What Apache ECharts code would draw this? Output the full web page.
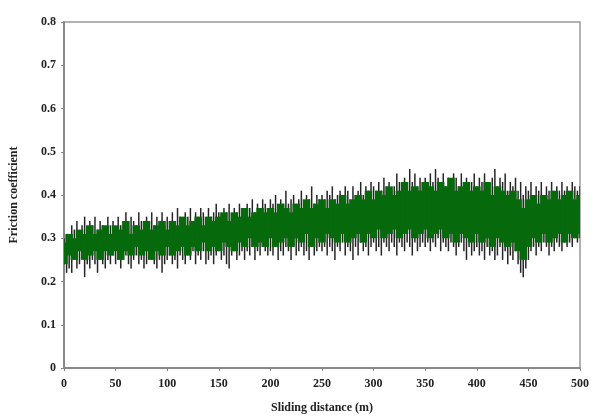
<!DOCTYPE html>
<html>
<head>
<meta charset="utf-8">
<script src="https://cdn.jsdelivr.net/npm/echarts@6/dist/echarts.min.js"></script>
<style>html,body{margin:0;padding:0;background:#fff;}#c{width:592px;height:419px;}</style>
</head>
<body>
<div id="c"></div>
<script>
// Sliding distance step for spike samples (m) and core samples (m)
var spikeStep = 2.5;
var coreStep = 5;
var xTicks = [0, 50, 100, 150, 200, 250, 300, 350, 400, 450, 500];
var yTicks = [0, 0.1, 0.2, 0.3, 0.4, 0.5, 0.6, 0.7, 0.8];

// Outer extremes of the friction signal (read every 2.5 m)
var spikeHigh = [
  0.30,0.31,0.29,0.33,0.32,0.34,0.31,0.33,0.35,0.32,0.34,0.33,0.35,0.32,0.34,0.33,0.31,0.35,0.33,0.34,
  0.32,0.35,0.33,0.34,0.36,0.32,0.35,0.34,0.33,0.36,0.34,0.32,0.35,0.34,0.36,0.33,0.35,0.34,0.36,0.33,
  0.35,0.34,0.36,0.33,0.37,0.35,0.34,0.36,0.35,0.37,0.34,0.36,0.35,0.37,0.36,0.34,0.37,0.35,0.36,0.38,
  0.36,0.35,0.37,0.36,0.38,0.35,0.37,0.36,0.38,0.37,0.36,0.38,0.37,0.39,0.36,0.38,0.37,0.39,0.38,0.37,
  0.39,0.38,0.40,0.37,0.39,0.38,0.41,0.38,0.39,0.40,0.38,0.39,0.41,0.38,0.40,0.39,0.42,0.38,0.40,0.39,
  0.40,0.39,0.41,0.40,0.42,0.39,0.40,0.41,0.40,0.42,0.41,0.39,0.42,0.40,0.41,0.43,0.40,0.42,0.41,0.43,
  0.42,0.41,0.43,0.41,0.44,0.42,0.43,0.41,0.42,0.45,0.43,0.41,0.44,0.42,0.46,0.43,0.45,0.42,0.44,0.43,
  0.44,0.42,0.45,0.43,0.46,0.44,0.43,0.45,0.42,0.44,0.43,0.45,0.44,0.42,0.45,0.43,0.44,0.41,0.43,0.45,
  0.42,0.44,0.43,0.45,0.42,0.43,0.44,0.46,0.42,0.44,0.43,0.45,0.41,0.43,0.42,0.44,0.41,0.43,0.40,0.42,
  0.41,0.43,0.40,0.42,0.41,0.43,0.40,0.42,0.41,0.43,0.40,0.42,0.41,0.43,0.41,0.42,0.40,0.43,0.42,0.41,
  0.42
];
var spikeLow = [
  0.24,0.22,0.23,0.22,0.25,0.23,0.24,0.26,0.21,0.24,0.23,0.25,0.24,0.22,0.25,0.24,0.23,0.25,0.24,0.26,
  0.24,0.25,0.23,0.25,0.26,0.24,0.23,0.25,0.26,0.24,0.25,0.23,0.24,0.26,0.25,0.24,0.23,0.25,0.22,0.24,
  0.25,0.26,0.24,0.25,0.23,0.26,0.25,0.24,0.26,0.25,0.27,0.24,0.26,0.25,0.27,0.24,0.25,0.26,0.24,0.26,
  0.27,0.25,0.26,0.24,0.23,0.26,0.27,0.25,0.26,0.27,0.25,0.27,0.26,0.28,0.25,0.27,0.26,0.28,0.27,0.26,
  0.27,0.26,0.28,0.25,0.27,0.26,0.28,0.27,0.25,0.28,0.26,0.27,0.28,0.26,0.27,0.25,0.28,0.26,0.27,0.28,
  0.27,0.28,0.26,0.28,0.27,0.25,0.28,0.27,0.29,0.26,0.28,0.27,0.25,0.28,0.26,0.29,0.27,0.28,0.26,0.28,
  0.29,0.27,0.28,0.26,0.29,0.28,0.27,0.29,0.28,0.26,0.29,0.28,0.27,0.29,0.28,0.26,0.29,0.27,0.28,0.29,
  0.28,0.29,0.27,0.29,0.28,0.30,0.27,0.29,0.28,0.27,0.29,0.28,0.26,0.28,0.29,0.27,0.25,0.28,0.26,0.27,
  0.28,0.26,0.27,0.25,0.28,0.26,0.27,0.25,0.26,0.28,0.25,0.27,0.24,0.26,0.25,0.27,0.24,0.22,0.21,0.23,
  0.25,0.27,0.28,0.26,0.28,0.27,0.29,0.28,0.26,0.28,0.27,0.29,0.28,0.27,0.29,0.28,0.29,0.28,0.30,0.29,
  0.30
];
// Dense green core of the signal (read every 5 m)
var coreHigh = [
  0.29,0.31,0.30,0.32,0.31,0.33,0.31,0.32,0.33,0.31,
  0.33,0.32,0.34,0.31,0.33,0.32,0.34,0.32,0.33,0.34,
  0.32,0.34,0.33,0.35,0.33,0.34,0.35,0.33,0.35,0.34,
  0.35,0.36,0.34,0.36,0.35,0.37,0.35,0.36,0.37,0.36,
  0.37,0.36,0.38,0.37,0.36,0.38,0.37,0.39,0.37,0.38,
  0.39,0.37,0.39,0.38,0.40,0.38,0.39,0.40,0.39,0.41,
  0.39,0.41,0.40,0.42,0.40,0.41,0.43,0.41,0.42,0.41,
  0.43,0.42,0.41,0.43,0.42,0.44,0.41,0.42,0.43,0.41,
  0.42,0.41,0.43,0.40,0.42,0.41,0.40,0.41,0.39,0.37,
  0.39,0.40,0.38,0.40,0.39,0.41,0.39,0.40,0.41,0.39,
  0.40
];
var coreLow = [
  0.24,0.26,0.25,0.27,0.25,0.26,0.27,0.25,0.27,0.26,
  0.27,0.25,0.27,0.26,0.28,0.26,0.27,0.25,0.27,0.26,
  0.28,0.26,0.27,0.28,0.26,0.28,0.27,0.29,0.27,0.28,
  0.27,0.29,0.28,0.27,0.29,0.28,0.30,0.28,0.29,0.28,
  0.30,0.28,0.29,0.30,0.28,0.30,0.29,0.31,0.28,0.30,
  0.29,0.31,0.30,0.29,0.31,0.29,0.30,0.31,0.29,0.31,
  0.30,0.32,0.30,0.31,0.32,0.30,0.31,0.32,0.30,0.31,
  0.32,0.30,0.31,0.32,0.30,0.31,0.29,0.31,0.30,0.29,
  0.31,0.29,0.30,0.28,0.30,0.29,0.28,0.29,0.27,0.25,
  0.28,0.30,0.29,0.31,0.29,0.30,0.31,0.29,0.31,0.30,
  0.31
];

// Build series data for the library
var spikeData = [];
for (var i = 0; i < spikeHigh.length; i++) {
  spikeData.push([i * spikeStep, spikeLow[i], spikeHigh[i]]);
}
var coreData = [];
for (var j = 0; j < coreHigh.length; j++) {
  coreData.push([j * coreStep, coreLow[j], coreHigh[j]]);
}

var green = '#066a0c';
var labelFont = {fontFamily: 'Liberation Serif', fontWeight: 'bold', fontSize: 12, color: '#222'};
var chart = echarts.init(document.getElementById('c'), null, {renderer: 'canvas'});
chart.setOption({
  animation: false,
  backgroundColor: '#fff',
  grid: {left: 61, right: 12, top: 22, bottom: 49, show: true, borderColor: '#999', borderWidth: 1.5, backgroundColor: 'transparent'},
  xAxis: {
    type: 'value', min: xTicks[0], max: xTicks[xTicks.length - 1], interval: xTicks[1] - xTicks[0],
    name: 'Sliding distance (m)', nameLocation: 'middle', nameGap: 34,
    nameTextStyle: {fontFamily: 'Liberation Serif', fontWeight: 'bold', fontSize: 12, color: '#222'},
    axisLine: {show: true, lineStyle: {color: '#888', width: 2}},
    axisTick: {show: true, inside: false, length: 3, lineStyle: {color: '#888'}},
    axisLabel: Object.assign({margin: 10}, labelFont),
    splitLine: {show: false}
  },
  yAxis: {
    type: 'value', min: yTicks[0], max: yTicks[yTicks.length - 1], interval: 0.1,
    name: 'Friction coefficient', nameLocation: 'middle', nameGap: 44,
    nameTextStyle: {fontFamily: 'Liberation Serif', fontWeight: 'bold', fontSize: 12, color: '#222'},
    axisLine: {show: true, lineStyle: {color: '#888', width: 2}},
    axisTick: {show: true, inside: false, length: 3, lineStyle: {color: '#888'}},
    axisLabel: Object.assign({margin: 8, formatter: function (v) { return +v.toFixed(1) + ''; }}, labelFont),
    splitLine: {show: false}
  },
  series: [
    {
      type: 'custom', data: spikeData, z: 1, clip: true,
      encode: {x: 0, y: [1, 2]},
      renderItem: function (params, api) {
        var a = api.coord([api.value(0), api.value(1)]);
        var b = api.coord([api.value(0), api.value(2)]);
        return {type: 'line', shape: {x1: a[0], y1: a[1], x2: b[0], y2: b[1]},
          style: {stroke: '#262626', lineWidth: 1.5}};
      }
    },
    {
      type: 'custom', data: coreData, z: 3, clip: true,
      encode: {x: 0, y: [1, 2]},
      renderItem: function (params, api) {
        var x = api.value(0);
        var tl = api.coord([x - coreStep / 2, api.value(2)]);
        var br = api.coord([x + coreStep / 2, api.value(1)]);
        var sys = params.coordSys;
        var l = Math.max(tl[0] - 1.2, sys.x), r = Math.min(br[0] + 1.2, sys.x + sys.width);
        return {type: 'rect', shape: {x: l, y: tl[1], width: r - l, height: br[1] - tl[1]},
          style: {fill: green}};
      }
    }
  ]
});
</script>
</body>
</html>
